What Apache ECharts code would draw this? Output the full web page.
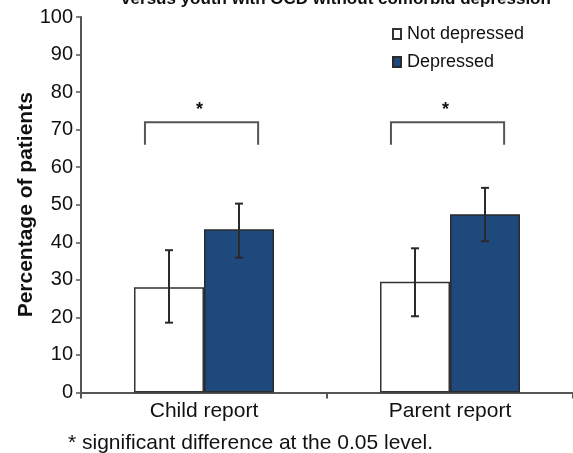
<!DOCTYPE html>
<html>
<head>
<meta charset="utf-8">
<script src="https://cdn.jsdelivr.net/npm/echarts@6/dist/echarts.min.js"></script>
<style>
html,body{margin:0;padding:0;background:#fff;}
#chart{width:573px;height:453px;}
</style>
</head>
<body>
<div id="chart"></div>
<script>
var categories = ['Child report', 'Parent report'];
var seriesNames = ['Not depressed', 'Depressed'];
var notDepressed = [28.0, 29.5];
var depressed = [43.5, 47.5];
var notDepressedErr = [[18.6, 37.9], [20.3, 38.4]];
var depressedErr = [[35.9, 50.3], [40.3, 54.5]];
var bracketTop = [72, 72];
var bracketBottom = [66, 66];
var bracketLabel = ['*', '*'];
var yTicks = [0, 10, 20, 30, 40, 50, 60, 70, 80, 90, 100];
var titleText = 'versus youth with OCD without comorbid depression';
var footnote = '* significant difference at the 0.05 level.';

var chart = echarts.init(document.getElementById('chart'));
var FONT = 'Liberation Sans, Arial, sans-serif';
var BAR_W = 70;

function errSeries(errs, offsetPx) {
  return {
    type: 'custom',
    z: 10,
    silent: true,
    data: errs.map(function (e, i) { return [i, e[0], e[1]]; }),
    renderItem: function (params, api) {
      var lo = api.coord([api.value(0), api.value(1)]);
      var hi = api.coord([api.value(0), api.value(2)]);
      var x = lo[0] + offsetPx;
      var cap = 4;
      var st = { stroke: '#2a2a2a', lineWidth: 2 };
      return {
        type: 'group',
        children: [
          { type: 'line', shape: { x1: x, y1: lo[1], x2: x, y2: hi[1] }, style: st },
          { type: 'line', shape: { x1: x - cap, y1: lo[1], x2: x + cap, y2: lo[1] }, style: st },
          { type: 'line', shape: { x1: x - cap, y1: hi[1], x2: x + cap, y2: hi[1] }, style: st }
        ]
      };
    }
  };
}

var option = {
  animation: false,
  backgroundColor: '#fff',
  title: {
    text: titleText,
    left: 331,
    textAlign: 'center',
    top: -14,
    textStyle: { fontFamily: FONT, fontSize: 17, fontWeight: 'bold', color: '#111' }
  },
  legend: {
    orient: 'vertical',
    left: 387,
    top: 20,
    itemWidth: 8,
    itemHeight: 10,
    itemGap: 10,
    icon: 'rect',
    data: seriesNames,
    textStyle: { fontFamily: FONT, fontSize: 18, color: '#111', padding: [0, 0, 0, 1] }
  },
  graphic: [{
    type: 'text',
    left: 68,
    top: 433,
    style: { text: footnote, font: '21px ' + FONT, fill: '#111' }
  }],
  grid: { left: 81, right: 0, top: 17, bottom: 60.5, containLabel: false },
  xAxis: {
    type: 'category',
    data: categories,
    boundaryGap: true,
    axisLine: { lineStyle: { color: '#555', width: 2 } },
    axisTick: { show: true, length: 6, interval: 0, lineStyle: { color: '#555', width: 2 } },
    axisLabel: { fontFamily: FONT, fontSize: 21, color: '#111', margin: 8 }
  },
  yAxis: {
    type: 'value',
    min: 0,
    max: 100,
    interval: 10,
    name: 'Percentage of patients',
    nameLocation: 'middle',
    nameGap: 44,
    nameMoveOverlap: false,
    nameTextStyle: { fontFamily: FONT, fontSize: 21, fontWeight: 'bold', color: '#111' },
    splitLine: { show: false },
    axisLine: { show: true, lineStyle: { color: '#555', width: 2 } },
    axisTick: { show: true, length: 5, lineStyle: { color: '#555', width: 1.5 } },
    axisLabel: {
      fontFamily: FONT, fontSize: 20, color: '#111', margin: 8,
      formatter: function (v) { return yTicks.indexOf(v) >= 0 ? String(v) : ''; }
    }
  },
  series: [
    {
      name: seriesNames[0],
      type: 'bar',
      data: notDepressed,
      barWidth: BAR_W,
      barGap: '0%',
      itemStyle: { color: '#ffffff', borderColor: '#333', borderWidth: 1.5 }
    },
    {
      name: seriesNames[1],
      type: 'bar',
      data: depressed,
      barWidth: BAR_W,
      barGap: '0%',
      itemStyle: { color: '#1f487c', borderColor: '#2a2a2a', borderWidth: 1.5 }
    },
    errSeries(notDepressedErr, -BAR_W / 2),
    errSeries(depressedErr, BAR_W / 2),
    {
      type: 'custom',
      silent: true,
      z: 10,
      data: bracketTop.map(function (t, i) { return [i, t, bracketBottom[i]]; }),
      renderItem: function (params, api) {
        var top = api.coord([api.value(0), api.value(1)]);
        var bot = api.coord([api.value(0), api.value(2)]);
        var bw = api.size([1, 0])[0];
        var xl = top[0] - bw * 0.24;
        var xr = top[0] + bw * 0.22;
        var st = { stroke: '#555', lineWidth: 2, fill: null };
        return {
          type: 'group',
          children: [
            { type: 'polyline', shape: { points: [[xl, bot[1]], [xl, top[1]], [xr, top[1]], [xr, bot[1]]] }, style: st },
            { type: 'text', x: (xl + xr) / 2 - 2, y: top[1] - 3,
              style: { text: bracketLabel[params.dataIndex], font: 'bold 18px ' + FONT, fill: '#111', align: 'center', verticalAlign: 'bottom' } }
          ]
        };
      }
    }
  ]
};
chart.setOption(option);
</script>
</body>
</html>
